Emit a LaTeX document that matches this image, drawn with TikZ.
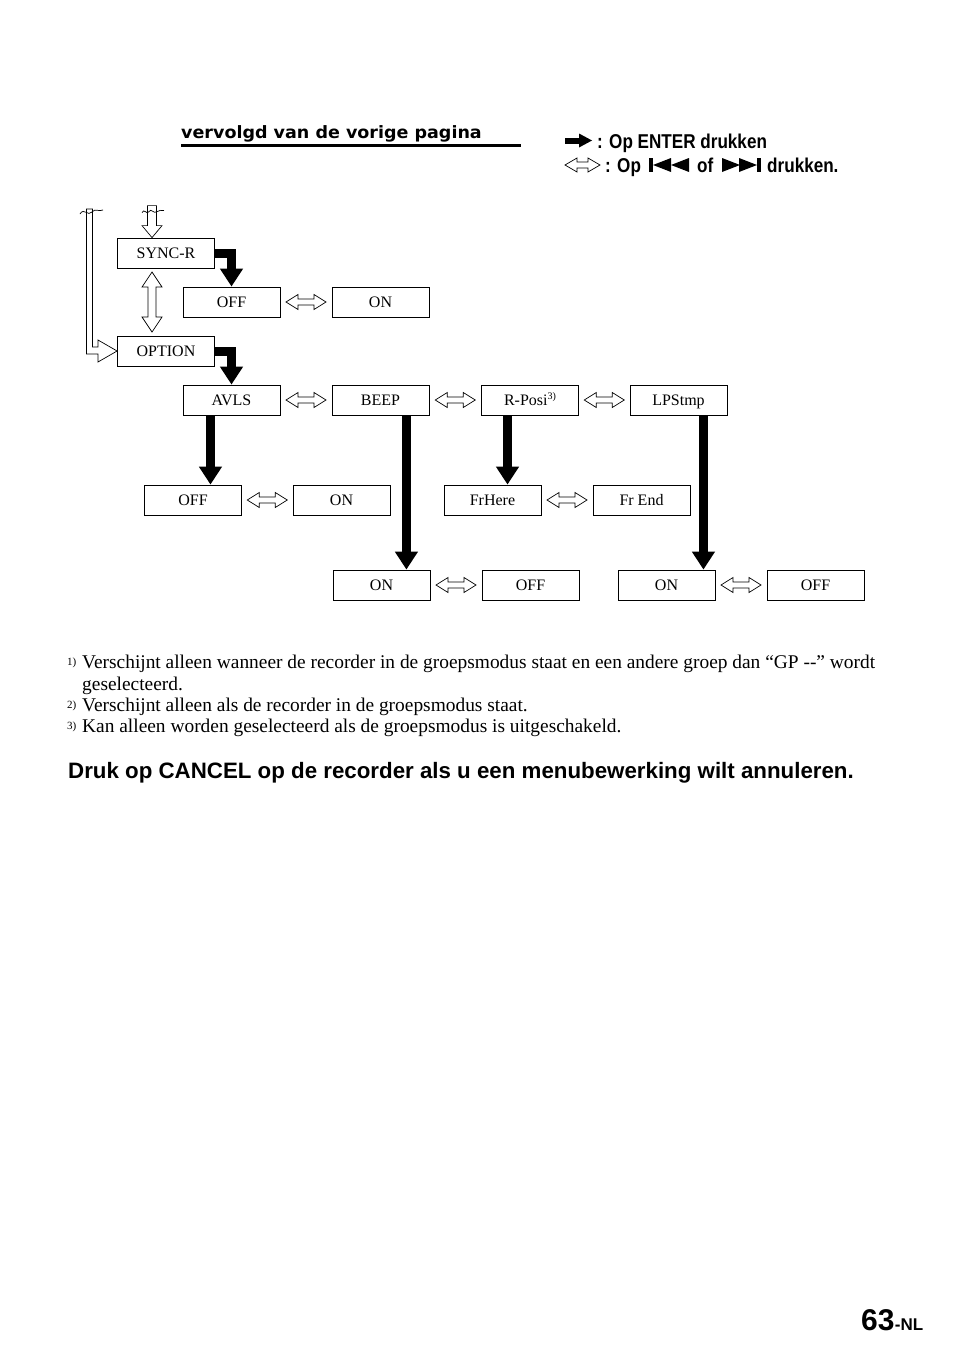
\documentclass[tikz,border=0pt]{standalone}
\usepackage{fontspec}
\setmainfont{Liberation Serif}
\newfontfamily\hv{Liberation Sans}
\newfontfamily\hvc[FakeStretch=0.855]{Liberation Sans}
\newfontfamily\hvw[FakeStretch=1.03]{DejaVu Sans}
\usetikzlibrary{arrows.meta,calc}
\tikzset{
  box/.style={draw, line width=0.8pt, minimum width=97pt, minimum height=30pt, inner sep=0pt,
    text height=10.6pt, text depth=0pt, font=\fontsize{16}{19}\selectfont},
  bigarr/.style={line width=9pt, -{Triangle[width=22pt,length=18pt]}},
  hollow/.style={draw, line width=0.7pt, fill=white, line join=miter},
  hdbl/.pic={\path[hollow] (-20,0) -- (-8,-7.5) -- (-8,-3) -- (8,-3) -- (8,-7.5) -- (20,0)
      -- (8,7.5) -- (8,3) -- (-8,3) -- (-8,7.5) -- cycle;},
  vdbl/.pic={\path[hollow] (0,-30) -- (10,-15) -- (4,-15) -- (4,15) -- (10,15) -- (0,30)
      -- (-10,15) -- (-4,15) -- (-4,-15) -- (-10,-15) -- cycle;},
  fn/.style={anchor=base west, inner sep=0pt, font=\fontsize{19.4}{22}\selectfont},
  fnm/.style={anchor=base west, inner sep=0pt, font=\fontsize{11}{12}\selectfont},
  legtxt/.style={anchor=base west, inner sep=0pt, font=\hvc\bfseries\fontsize{20}{22}\selectfont},
}
\begin{document}
\begin{tikzpicture}[x=1pt,y=-1pt]
\useasboundingbox[fill=white] (0,0) rectangle (954,1357);

% heading
\node[anchor=base west, inner sep=0pt, font=\hvw\bfseries\fontsize{17}{19}\selectfont] (head) at (181,138) {vervolgd van de vorige pagina};
\draw[line width=3pt] (181,145.8) coordinate (ul1) -- (521,145.8) coordinate (ul2);

% legend
\fill (565,137.5) rectangle (580,143.5);
\fill (579,133.5) -- (592,140.5) -- (579,147.5) -- cycle;
\node[legtxt] (leg1) at (597,148) {: Op ENTER drukken};
\path[hollow] (565,165) -- (577,158) -- (577,162) -- (588,162) -- (588,158) -- (600,165)
   -- (588,172) -- (588,168) -- (577,168) -- (577,172) -- cycle;
\node[legtxt] (leg2a) at (605,172) {: Op};
\fill (649,158) rectangle (653,172);
\fill (653,165) -- (671,158) -- (671,172) -- cycle;
\fill (671,165) -- (689,158) -- (689,172) -- cycle;
\node[legtxt] (leg2b) at (697,172) {of};
\fill (722,158) -- (740,165) -- (722,172) -- cycle;
\fill (739,158) -- (757,165) -- (739,172) -- cycle;
\fill (757,158) rectangle (761,172);
\node[legtxt] (leg2c) at (767,172) {drukken.};

% boxes
\node[box] (syncR) at (166,253) {SYNC-R};
\node[box] (offS) at (231.5,302) {OFF};
\node[box] (onS) at (380.5,302) {ON};
\node[box] (option) at (166,351) {OPTION};
\node[box] (avls) at (231.5,400) {AVLS};
\node[box] (beep) at (380.5,400) {BEEP};
\node[box] (rposi) at (530,400) {R-Posi\raisebox{6pt}{\fontsize{10}{10}\selectfont 3)}};
\node[box] (lpstmp) at (678.5,400) {LPStmp};
\node[box] (offA) at (193,500) {OFF};
\node[box] (onA) at (341.5,500) {ON};
\node[box] (frhere) at (492.5,500) {FrHere};
\node[box] (frend) at (641.5,500) {Fr End};
\node[box] (onB) at (381.5,585) {ON};
\node[box] (offB) at (530.5,585) {OFF};
\node[box] (onL) at (666.5,585) {ON};
\node[box] (offL) at (815.5,585) {OFF};

% thick ENTER arrows
\draw[bigarr] (syncR.east) -| (offS.north);
\draw[bigarr] (option.east) -| (avls.north);
\coordinate (a1) at ($(avls.south west)!0.285!(avls.south east)$);
\draw[bigarr] (a1) -- (a1 |- offA.north);
\coordinate (b1) at ($(beep.south west)!0.765!(beep.south east)$);
\draw[bigarr] (b1) -- (b1 |- onB.north);
\coordinate (r1) at ($(rposi.south west)!0.27!(rposi.south east)$);
\draw[bigarr] (r1) -- (r1 |- frhere.north);
\coordinate (l1) at ($(lpstmp.south west)!0.755!(lpstmp.south east)$);
\draw[bigarr] (l1) -- (l1 |- onL.north);

% hollow double arrows
\path ($(offS.east)!0.5!(onS.west)$) pic{hdbl};
\path ($(avls.east)!0.5!(beep.west)$) pic{hdbl};
\path ($(beep.east)!0.5!(rposi.west)$) pic{hdbl};
\path ($(rposi.east)!0.5!(lpstmp.west)$) pic{hdbl};
\path ($(offA.east)!0.5!(onA.west)$) pic{hdbl};
\path ($(frhere.east)!0.5!(frend.west)$) pic{hdbl};
\path ($(onB.east)!0.5!(offB.west)$) pic{hdbl};
\path ($(onL.east)!0.5!(offL.west)$) pic{hdbl};
\path ($(syncR.south)!0.5!(option.north)+(-14,0)$) pic{vdbl};

% incoming arrow from top
\coordinate (inTip) at ($(syncR.north)+(-14,0)$);
\path[hollow] (inTip) -- ++(-10,-12) -- ++(5.5,0) -- ++(0,-20) -- ++(9,0) -- ++(0,20) -- ++(5.5,0) -- cycle;
\draw[line width=0.7pt] ($(inTip)+(-10,-25)$) .. controls +(2,-5) and +(-2,4) .. ++(7,-1)
   .. controls +(2,-4) and +(-3,3) .. ++(8,0) .. controls +(2,-2) and +(-2,0) .. ++(7,-1);

% left loop arrow to OPTION
\coordinate (loopTip) at (option.west);
\path[hollow] (loopTip) -- (98,340) -- (98,347) -- (92.5,347) -- (92.5,209) -- (86.5,209)
   -- (86.5,354) -- (98,354) -- (98,362) -- cycle;
\draw[line width=0.7pt] (80,214) .. controls (84,207) and (88,217) .. (92,212) .. controls (95,208) and (99,212) .. (103,210);

% footnotes
\node[fnm] (m1) at (67,665) {1)};
\node[fn] (f1) at (82,668) {Verschijnt alleen wanneer de recorder in de groepsmodus staat en een andere groep dan “GP {-}{-}” wordt};
\node[fn] (f1b) at (82,690) {geselecteerd.};
\node[fnm] (m2) at (67,708) {2)};
\node[fn] (f2) at (82,711) {Verschijnt alleen als de recorder in de groepsmodus staat.};
\node[fnm] (m3) at (67,729) {3)};
\node[fn] (f3) at (82,732) {Kan alleen worden geselecteerd als de groepsmodus is uitgeschakeld.};

\node[anchor=base west, inner sep=0pt, font=\hv\bfseries\fontsize{22.3}{26}\selectfont] (cancel) at (68,778.5) {Druk op CANCEL op de recorder als u een menubewerking wilt annuleren.};

\node[anchor=base west, inner sep=0pt, font=\hv\bfseries\fontsize{30}{32}\selectfont] (pg) at (861,1330) {63};
\node[anchor=base west, inner sep=0pt, font=\hv\bfseries\fontsize{17}{20}\selectfont] (nl) at (pg.base east) {-NL};
\end{tikzpicture}
\end{document}
